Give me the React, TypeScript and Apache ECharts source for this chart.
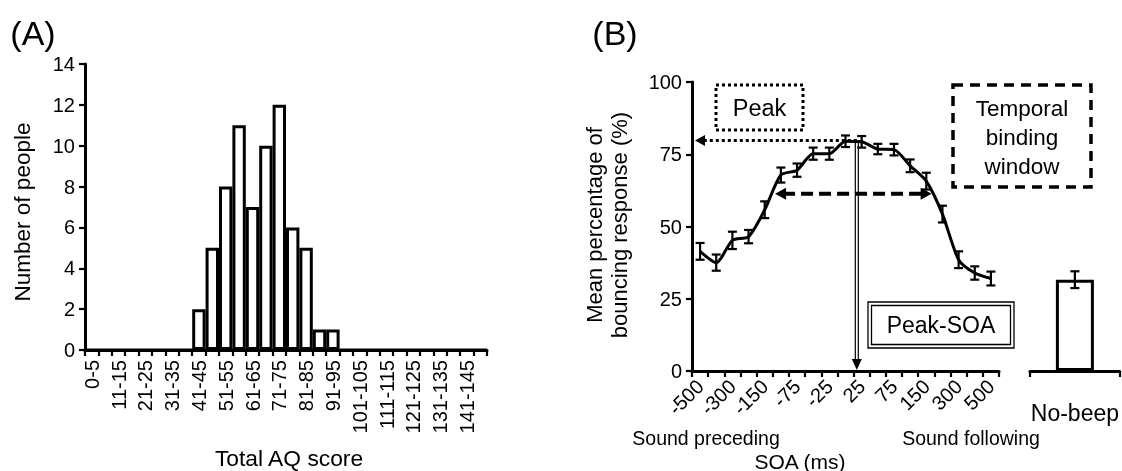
import React, { useEffect, useRef } from "react";
import * as echarts from "echarts";

// ---------- Panel A data ----------
const aqBins = [
  "0-5", "6-10", "11-15", "16-20", "21-25", "26-30", "31-35", "36-40", "41-45", "46-50",
  "51-55", "56-60", "61-65", "66-70", "71-75", "76-80", "81-85", "86-90", "91-95", "96-100",
  "101-105", "106-110", "111-115", "116-120", "121-125", "126-130", "131-135", "136-140", "141-145", "146-150",
];
const aqCounts = [0, 0, 0, 0, 0, 0, 0, 0, 2, 5, 8, 11, 7, 10, 12, 6, 5, 1, 1, 0, 0, 0, 0, 0, 0, 0, 0, 0, 0, 0];
const aqYMax = 14;
const aqYStep = 2;

// ---------- Panel B data ----------
const soaLabels = ["-500", "-400", "-300", "-200", "-150", "-100", "-75", "-50", "-25", "0", "25", "50", "75", "100", "150", "200", "300", "400", "500"];
const bounceMean = [41.4, 37.5, 45.2, 46.5, 55.8, 67.8, 69.5, 75.2, 75.2, 79.5, 79.3, 76.8, 76.6, 71.0, 65.7, 54.3, 38.5, 33.9, 32.0];
const bounceSE = [2.9, 2.8, 3.0, 2.3, 2.9, 2.6, 2.3, 2.1, 2.1, 2.0, 2.0, 1.8, 2.0, 2.2, 2.9, 2.9, 2.9, 2.3, 2.4];
const noBeepLabel = ["No-beep"];
const noBeepMean = [31.6];
const noBeepSE = [2.9];
const bYMax = 100;
const bYStep = 25;

// annotation anchors (data space of panel B)
const peakPct = 79.8;
const peakSoaPos = 9.7;
const tbwPct = 61.3;
const tbwLeftPos = 4.64;
const tbwRightPos = 14.33;

const FONT = "'Liberation Sans', Arial, Helvetica, sans-serif";
const BLACK = "#000";

function errorBarRender(params: any, api: any) {
  const x = api.value(0);
  const m = api.value(1);
  const e = api.value(2);
  const top = api.coord([x, m + e]);
  const bot = api.coord([x, m - e]);
  const w = 4.5;
  const st = { stroke: BLACK, lineWidth: 2.2 };
  return {
    type: "group",
    children: [
      { type: "line", shape: { x1: top[0], y1: top[1], x2: bot[0], y2: bot[1] }, style: st },
      { type: "line", shape: { x1: top[0] - w, y1: top[1], x2: top[0] + w, y2: top[1] }, style: st },
      { type: "line", shape: { x1: bot[0] - w, y1: bot[1], x2: bot[0] + w, y2: bot[1] }, style: st },
    ],
  };
}

function txt(text: string, x: number, y: number, size: number, extra: any = {}) {
  return {
    type: "text",
    x,
    y,
    rotation: extra.rotation || 0,
    style: {
      text,
      fontSize: size,
      fontFamily: FONT,
      fill: BLACK,
      align: "center",
      verticalAlign: "middle",
      textAlign: "center",
      textVerticalAlign: "middle",
      lineHeight: extra.lineHeight,
    },
  };
}

export default function App() {
  const ref = useRef<HTMLDivElement>(null);

  useEffect(() => {
    if (!ref.current) return;
    const chart = echarts.init(ref.current, undefined, { renderer: "svg" });

    const axisLine = { show: true, lineStyle: { color: BLACK, width: 3 } };
    const axisTick = { show: true, length: 6, lineStyle: { color: BLACK, width: 2.2 } };
    const tickLabel = { color: BLACK, fontSize: 20, fontFamily: FONT };

    const option: any = {
      animation: false,
      textStyle: { fontFamily: FONT },
      grid: [
        { left: 85, top: 64, width: 402, height: 286 },
        { left: 692, top: 82, width: 307, height: 289 },
        { left: 1030, top: 82, width: 90, height: 289 },
      ],
      xAxis: [
        {
          type: "category",
          gridIndex: 0,
          data: aqBins,
          axisLine,
          axisTick: { ...axisTick, interval: 0 },
          axisLabel: { ...tickLabel, interval: 1, rotate: 90, margin: 10 },
          splitLine: { show: false },
        },
        {
          type: "category",
          gridIndex: 1,
          data: soaLabels,
          axisLine,
          axisTick: { ...axisTick, interval: 0 },
          axisLabel: { ...tickLabel, interval: 1, rotate: 45, margin: 12 },
          splitLine: { show: false },
        },
        {
          type: "category",
          gridIndex: 2,
          data: noBeepLabel,
          axisLine,
          axisTick: { ...axisTick, interval: 0 },
          axisLabel: { ...tickLabel, fontSize: 23, margin: 30 },
          splitLine: { show: false },
        },
      ],
      yAxis: [
        {
          type: "value",
          gridIndex: 0,
          min: 0,
          max: aqYMax,
          interval: aqYStep,
          axisLine,
          axisTick,
          axisLabel: { ...tickLabel, margin: 10 },
          splitLine: { show: false },
        },
        {
          type: "value",
          gridIndex: 1,
          min: 0,
          max: bYMax,
          interval: bYStep,
          axisLine,
          axisTick,
          axisLabel: { ...tickLabel, margin: 10 },
          splitLine: { show: false },
        },
        {
          type: "value",
          gridIndex: 2,
          min: 0,
          max: bYMax,
          interval: bYStep,
          show: false,
        },
      ],
      series: [
        {
          type: "bar",
          xAxisIndex: 0,
          yAxisIndex: 0,
          data: aqCounts,
          barCategoryGap: "0%",
          itemStyle: { color: "#fff", borderColor: BLACK, borderWidth: 3 },
        },
        {
          type: "line",
          xAxisIndex: 1,
          yAxisIndex: 1,
          data: bounceMean,
          smooth: 0.25,
          symbol: "none",
          lineStyle: { color: BLACK, width: 3 },
          z: 3,
        },
        {
          type: "custom",
          xAxisIndex: 1,
          yAxisIndex: 1,
          data: bounceMean.map((m, i) => [i, m, bounceSE[i]]),
          encode: { x: 0, y: 1 },
          renderItem: errorBarRender,
          z: 4,
        },
        {
          type: "bar",
          xAxisIndex: 2,
          yAxisIndex: 2,
          data: noBeepMean,
          barWidth: 38,
          itemStyle: { color: "#fff", borderColor: BLACK, borderWidth: 3 },
        },
        {
          type: "custom",
          xAxisIndex: 2,
          yAxisIndex: 2,
          data: noBeepMean.map((m, i) => [i, m, noBeepSE[i]]),
          encode: { x: 0, y: 1 },
          renderItem: errorBarRender,
          z: 4,
        },
      ],
    };
    chart.setOption(option);

    const conv = (i: number, v: number) => chart.convertToPixel({ gridIndex: 1 } as any, [i, v]) as number[];
    const xAt = (pos: number) => {
      const i0 = Math.min(Math.floor(pos), soaLabels.length - 2);
      const a = conv(i0, 0)[0];
      const b = conv(i0 + 1, 0)[0];
      return a + (pos - i0) * (b - a);
    };
    const yAt = (v: number) => conv(0, v)[1];
    const axisX = conv(0, 0)[0] - (conv(1, 0)[0] - conv(0, 0)[0]) / 2;
    const y0 = yAt(0);
    const xp = xAt(peakSoaPos);
    const yp = yAt(peakPct);
    const yt = yAt(tbwPct);
    const xl = xAt(tbwLeftPos);
    const xr = xAt(tbwRightPos);

    const graphic: any[] = [
      txt("(A)", 33, 33, 34),
      txt("(B)", 615, 33, 34),
      txt("Number of people", 22, 212, 22.5, { rotation: Math.PI / 2 }),
      txt("Total AQ score", 289, 458, 22.8),
      txt("Mean percentage of\nbouncing response (%)", 607, 225, 22, { rotation: Math.PI / 2, lineHeight: 25 }),
      txt("Sound preceding", 706, 438, 19.5),
      txt("Sound following", 971, 438, 19.5),
      txt("SOA (ms)", 800, 461, 21),
      // Peak box (dotted)
      { type: "rect", shape: { x: 716, y: 85, width: 87, height: 45 }, style: { fill: "none", stroke: BLACK, lineWidth: 3, lineDash: [3, 3] } },
      txt("Peak", 759.5, 108, 23.5),
      // dotted arrow to y axis
      { type: "line", shape: { x1: xp, y1: yp, x2: axisX + 10, y2: yp }, style: { stroke: BLACK, lineWidth: 3, lineDash: [3, 3] } },
      { type: "polygon", shape: { points: [[axisX + 3, yp], [axisX + 13, yp - 5.5], [axisX + 13, yp + 5.5]] }, style: { fill: BLACK } },
      // Peak-SOA vertical double arrow
      { type: "line", shape: { x1: xp - 1.5, y1: yp, x2: xp - 1.5, y2: y0 - 9 }, style: { stroke: BLACK, lineWidth: 1.2 } },
      { type: "line", shape: { x1: xp + 1.5, y1: yp, x2: xp + 1.5, y2: y0 - 9 }, style: { stroke: BLACK, lineWidth: 1.2 } },
      { type: "polygon", shape: { points: [[xp, y0 - 1], [xp - 5, y0 - 12], [xp + 5, y0 - 12]] }, style: { fill: BLACK } },
      // Temporal binding window dashed arrow
      { type: "line", shape: { x1: xl + 8, y1: yt, x2: xr - 8, y2: yt }, style: { stroke: BLACK, lineWidth: 4, lineDash: [12, 6] } },
      { type: "polygon", shape: { points: [[xl, yt], [xl + 11, yt - 6], [xl + 11, yt + 6]] }, style: { fill: BLACK } },
      { type: "polygon", shape: { points: [[xr, yt], [xr - 11, yt - 6], [xr - 11, yt + 6]] }, style: { fill: BLACK } },
      // TBW box
      { type: "rect", shape: { x: 953, y: 85, width: 138, height: 102 }, style: { fill: "none", stroke: BLACK, lineWidth: 3.5, lineDash: [10, 7] } },
      txt("Temporal\nbinding\nwindow", 1022, 137, 22.5, { lineHeight: 29 }),
      // Peak-SOA double-bordered box
      { type: "rect", shape: { x: 868, y: 302, width: 146, height: 46 }, style: { fill: "#fff", stroke: BLACK, lineWidth: 1.3 } },
      { type: "rect", shape: { x: 871.5, y: 305.5, width: 139, height: 39 }, style: { fill: "none", stroke: BLACK, lineWidth: 1.3 } },
      txt("Peak-SOA", 941, 325, 23),
    ];
    chart.setOption({ graphic });

    return () => chart.dispose();
  }, []);

  return <div ref={ref} style={{ position: "fixed", left: 0, top: 0, width: 1122, height: 471 }} />;
}
